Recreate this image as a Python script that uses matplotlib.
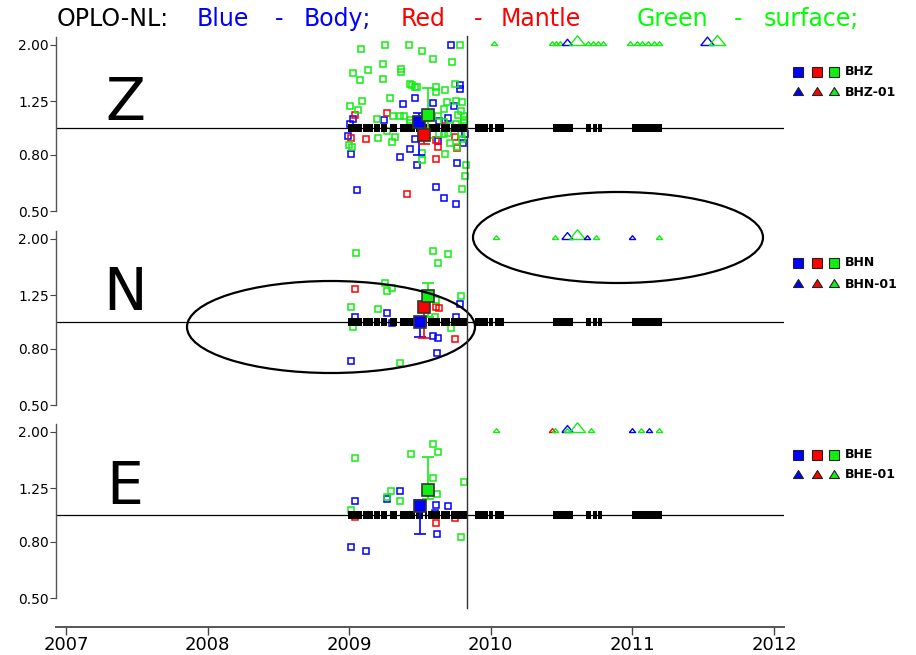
import numpy as np
import matplotlib
matplotlib.use('Agg')
import matplotlib.pyplot as plt
import matplotlib.transforms as mtransforms
from matplotlib.patches import Ellipse
from matplotlib.lines import Line2D

plt.rcParams['font.family'] = ['DejaVu Sans']

BLUE = '#0000ff'
RED = '#ff0000'
GREEN = '#11ee11'

# recording coverage (start / end, decimal years)
cover_start = [2008.99, 2009.10, 2009.175, 2009.225, 2009.29, 2009.36, 2009.47, 2009.535,
               2009.56, 2009.65, 2009.72, 2009.89, 2009.99, 2010.03, 2010.44, 2010.67,
               2010.72, 2010.76, 2011.00]
cover_end = [2009.09, 2009.17, 2009.22, 2009.27, 2009.34, 2009.465, 2009.52, 2009.547,
             2009.64, 2009.71, 2009.83, 2009.98, 2010.015, 2010.09, 2010.58, 2010.71,
             2010.75, 2010.785, 2011.21]

# ---- Z component ----
z_green_t = [2009.081, 2009.252, 2009.424, 2009.514, 2009.782, 2009.594, 2009.728, 2009.241,
             2009.363, 2009.135, 2009.026, 2009.074, 2009.241, 2009.431, 2009.464, 2009.481,
             2009.615, 2009.744, 2009.613, 2009.674, 2009.092, 2009.290, 2009.003, 2009.064,
             2009.688, 2009.756, 2009.796, 2009.667, 2009.789, 2009.198, 2009.307, 2009.358,
             2009.384, 2009.429, 2009.431, 2009.629, 2009.768, 2009.810, 2009.810, 2009.671,
             2009.756, 2009.711, 2009.264, 2009.323, 2009.300, 2009.203, 2008.998, 2009.017,
             2009.521, 2009.671, 2009.634, 2009.789, 2009.799, 2009.711, 2009.763, 2009.511,
             2009.511, 2009.676, 2009.824, 2009.815, 2009.794, 2009.365, 2009.443, 2009.813,
             2009.700]
z_green_v = [1.932, 1.991, 1.990, 1.905, 1.990, 1.782, 1.729, 1.700,
             1.631, 1.626, 1.582, 1.488, 1.509, 1.447, 1.411, 1.407,
             1.403, 1.447, 1.346, 1.373, 1.252, 1.281, 1.205, 1.159,
             1.245, 1.256, 1.238, 1.168, 1.155, 1.081, 1.102, 1.102,
             1.102, 1.069, 1.040, 1.102, 1.114, 1.105, 1.066, 1.054,
             1.034, 1.020, 0.975, 0.925, 0.887, 0.920, 0.868, 0.854,
             0.946, 0.951, 0.949, 0.951, 0.910, 0.885, 0.851, 0.810,
             0.766, 0.807, 0.737, 0.670, 0.603, 1.599, 1.431, 1.040,
             0.957]
z_blue_t = [2009.718, 2009.784, 2009.784, 2009.464, 2009.377, 2009.594, 2009.740, 2009.248,
            2009.697, 2009.631, 2009.026, 2009.005, 2008.991, 2009.015, 2009.361, 2009.429,
            2009.476, 2009.758, 2009.629, 2009.806, 2009.817, 2009.057, 2009.613, 2009.671,
            2009.751, 2009.467]
z_blue_v = [1.990, 1.431, 1.380, 1.281, 1.225, 1.235, 1.201, 1.066,
            1.084, 1.063, 1.075, 1.034, 0.936, 0.807, 0.785, 0.842,
            0.735, 0.745, 0.900, 0.880, 0.949, 0.597, 0.612, 0.558,
            0.532, 0.910]
z_red_t = [2009.043, 2009.267, 2009.012, 2009.118, 2009.613, 2009.629, 2009.747, 2009.676,
           2009.613, 2009.408, 2009.758]
z_red_v = [1.118, 1.130, 0.923, 0.915, 0.905, 0.856, 0.930, 1.013,
           0.772, 0.577, 0.844]
z_mean_t = [2009.49, 2009.53, 2009.56]
z_mean_v = [1.05, 0.94, 1.11]
z_mean_lo = [0.80, 0.875, 0.92]
z_mean_hi = [1.13, 1.00, 1.40]
z_mean_c = [BLUE, RED, GREEN]
z_tri_t = [2010.02, 2010.43, 2010.46, 2010.49, 2010.54, 2010.61, 2010.69, 2010.72, 2010.76,
           2010.79, 2010.98, 2011.03, 2011.07, 2011.11, 2011.15, 2011.19, 2011.53, 2011.60]
z_tri_c = [GREEN, GREEN, GREEN, GREEN, BLUE, GREEN, GREEN, GREEN, GREEN,
           GREEN, GREEN, GREEN, GREEN, GREEN, GREEN, GREEN, BLUE, GREEN]
z_tri_s = [5.5, 5.5, 5.5, 5.5, 9, 14, 5.5, 5.5, 5.5,
           5.5, 5.5, 5.5, 5.5, 5.5, 5.5, 5.5, 12, 14.5]

# ---- N component ----
n_green_t = [2009.045, 2009.594, 2009.700, 2009.629, 2009.252, 2009.269, 2009.300, 2009.015,
             2009.201, 2009.787, 2009.606, 2009.718, 2009.024, 2009.358, 2009.613]
n_green_v = [1.772, 1.802, 1.767, 1.640, 1.380, 1.298, 1.324, 1.130,
             1.111, 1.242, 1.040, 0.949, 0.962, 0.709, 1.201]
n_blue_t = [2009.269, 2009.041, 2009.300, 2009.784, 2009.751, 2009.589, 2009.627, 2009.617,
            2009.015]
n_blue_v = [1.075, 1.045, 0.989, 1.162, 1.040, 0.890, 0.875, 0.770, 0.723]
n_red_t = [2009.041, 2009.613, 2009.631, 2009.749]
n_red_v = [1.313, 1.136, 1.121, 0.870]
n_mean_t = [2009.50, 2009.53, 2009.56]
n_mean_v = [1.00, 1.13, 1.24]
n_mean_lo = [0.88, 0.873, 1.045]
n_mean_hi = [1.045, 1.14, 1.38]
n_mean_c = [BLUE, RED, GREEN]
n_tri_t = [2010.04, 2010.45, 2010.54, 2010.61, 2010.68, 2010.74, 2011.00, 2011.19]
n_tri_c = [GREEN, GREEN, BLUE, GREEN, BLUE, GREEN, BLUE, GREEN]
n_tri_s = [5.5, 5.5, 10, 14, 5.5, 5.5, 5.5, 5.5]

# ---- E component ----
e_green_t = [2009.594, 2009.629, 2009.434, 2009.043, 2009.297, 2009.269, 2009.358, 2009.589,
             2009.810, 2009.617, 2009.012, 2009.787]
e_green_v = [1.802, 1.690, 1.658, 1.613, 1.225, 1.165, 1.127, 1.365,
             1.320, 1.188, 1.046, 0.835]
e_blue_t = [2009.358, 2009.043, 2009.269, 2009.700, 2009.613, 2009.608, 2009.617, 2009.015,
            2009.121]
e_blue_v = [1.218, 1.124, 1.140, 1.081, 1.084, 1.020, 0.854, 0.768, 0.743]
e_red_t = [2009.613, 2009.749, 2009.043]
e_red_v = [0.933, 0.973, 0.986]
e_mean_t = [2009.50, 2009.56]
e_mean_v = [1.08, 1.23]
e_mean_lo = [0.853, 1.14]
e_mean_hi = [1.13, 1.62]
e_mean_c = [BLUE, GREEN]
e_tri_t = [2010.04, 2010.43, 2010.45, 2010.54, 2010.54, 2010.61, 2010.71, 2011.00, 2011.06,
           2011.12, 2011.19]
e_tri_c = [GREEN, RED, GREEN, BLUE, GREEN, GREEN, GREEN, BLUE, GREEN, BLUE, GREEN]
e_tri_s = [5.5, 5.5, 5.5, 10, 5.5, 14, 5.5, 5.5, 5.5, 5.5, 5.5]

yticks = [0.5, 0.8, 1.25, 2.0]
ytick_labels = ['0.50', '0.80', '1.25', '2.00']
years = [2007, 2008, 2009, 2010, 2011, 2012]
mark_time = 2009.83

panels = [
    ('Z', 'BHZ', z_blue_t, z_blue_v, z_red_t, z_red_v, z_green_t, z_green_v,
     z_mean_t, z_mean_v, z_mean_lo, z_mean_hi, z_mean_c, z_tri_t, z_tri_c, z_tri_s),
    ('N', 'BHN', n_blue_t, n_blue_v, n_red_t, n_red_v, n_green_t, n_green_v,
     n_mean_t, n_mean_v, n_mean_lo, n_mean_hi, n_mean_c, n_tri_t, n_tri_c, n_tri_s),
    ('E', 'BHE', e_blue_t, e_blue_v, e_red_t, e_red_v, e_green_t, e_green_v,
     e_mean_t, e_mean_v, e_mean_lo, e_mean_hi, e_mean_c, e_tri_t, e_tri_c, e_tri_s),
]

W, H = 916, 655
fig = plt.figure(figsize=(W / 100, H / 100), dpi=100)

# flat triangle with its base on the point; a taller one for the key
tri = [(-1, 0), (1, 0), (0, 1.24), (-1, 0)]
tri_key = [(-1, 0), (1, 0), (0, 1.6), (-1, 0)]

# panel bottoms in pixels from the top, and label / key rows
panel_bottom = [211.2, 405.2, 598.2]
label_base = [120, 310, 504]
leg_sq = [71.7, 263, 455]
leg_tri = [91, 283, 474]

axes = []
for i, p in enumerate(panels):
    (comp, chan, bt, bv, rt, rv, gt, gv, mt, mv, mlo, mhi, mc, tt, tc, ts) = p
    ax = fig.add_axes([56 / W, 1 - panel_bottom[i] / H, 728 / W, 174.2 / H])
    axes.append(ax)
    ax.set_yscale('log')
    ax.set_ylim(0.5, 2.135)
    ax.set_xlim(2006.929, 2012.071)

    ax.plot(bt, bv, 's', ms=4.3, mfc='none', mec=BLUE, mew=1.1, zorder=2)
    ax.plot(rt, rv, 's', ms=4.3, mfc='none', mec=RED, mew=1.1, zorder=2)
    ax.plot(gt, gv, 's', ms=4.3, mfc='none', mec=GREEN, mew=1.1, zorder=2)

    ax.axhline(1.0, color='black', lw=0.9, zorder=2.5)
    spans = [(s, e - s) for s, e in zip(cover_start, cover_end)]
    ax.broken_barh(spans, (0.971, 0.0595), facecolors='black', edgecolors='none', zorder=3)

    for t, s, c in zip(tt, ts, tc):
        ax.plot([t], [2.0], marker=tri, ms=s, mfc='none', mec=c, mew=1.0,
                ls='none', clip_on=False, zorder=4)

    for t, v, lo, hi, c in zip(mt, mv, mlo, mhi, mc):
        ax.errorbar([t], [v], yerr=[[v - lo], [hi - v]], fmt='none', ecolor=c,
                    elinewidth=1.2, capsize=4.5, capthick=1.2, zorder=5)
        ax.plot([t], [v], 's', ms=8, mfc=c, mec='#333333', mew=1.2, zorder=6)

    ax.set_yticks(yticks)
    ax.set_yticklabels(ytick_labels)
    ax.yaxis.set_minor_locator(matplotlib.ticker.NullLocator())
    ax.tick_params(axis='y', direction='out', length=4, width=0.8, colors='#444444',
                   labelcolor='black', labelsize=10, pad=1)
    for side in ['top', 'right']:
        ax.spines[side].set_visible(False)
    ax.spines['left'].set_color('#555555')
    ax.spines['left'].set_linewidth(1.0)

    fig.text(125 / W, 1 - label_base[i] / H, comp, fontsize=42,
             ha='center', va='baseline')

    # channel key on the right
    for x, c in zip([797.7, 816.7, 834.0], [BLUE, RED, GREEN]):
        fig.add_artist(Line2D([x / W], [1 - leg_sq[i] / H], marker='s', ms=6.5, mfc=c,
                              mec='#222222', mew=0.8, transform=fig.transFigure))
        fig.add_artist(Line2D([x / W], [1 - (leg_tri[i] + 4) / H], marker=tri_key, ms=11.5,
                              mfc=c, mec='#222222', mew=0.8, transform=fig.transFigure))
    fig.text(845 / W, 1 - leg_sq[i] / H, chan, fontsize=9, weight='bold', va='center')
    fig.text(845 / W, 1 - (leg_tri[i] + 1) / H, chan + '-01', fontsize=9, weight='bold',
             va='center')

for ax in axes[:2]:
    ax.spines['bottom'].set_visible(False)
    ax.set_xticks([])

ax_e = axes[2]
ax_e.spines['bottom'].set_position(('outward', 21))
ax_e.spines['bottom'].set_color('#555555')
ax_e.spines['bottom'].set_linewidth(1.4)
ax_e.set_xticks(years)
ax_e.set_xticklabels([str(y) for y in years])
ax_e.tick_params(axis='x', direction='out', length=5.5, width=1.0, colors='#444444',
                 labelcolor='black', labelsize=13, pad=0.5)

# vertical marker running through all three panels
blend = mtransforms.blended_transform_factory(ax_e.transData, fig.transFigure)
fig.add_artist(Line2D([mark_time, mark_time], [1 - 36 / H, 1 - 608 / H], color='#333333',
                      lw=1.0, transform=blend))

# highlighted regions
fig.add_artist(Ellipse((331 / W, 1 - 327 / H), 288 / W, 92 / H, fill=False, ec='black',
                       lw=1.6, transform=fig.transFigure))
fig.add_artist(Ellipse((618 / W, 1 - 237.5 / H), 290 / W, 91 / H, fill=False, ec='black',
                       lw=1.6, transform=fig.transFigure))

# header, one word at a time
header = [('OPLO-NL:', 57, 'black'),
          ('Blue', 197, BLUE), ('-', 275, BLUE), ('Body;', 304, BLUE),
          ('Red', 401, RED), ('-', 474, RED), ('Mantle', 501, RED),
          ('Green', 637, '#00ff00'), ('-', 734, '#00ff00'), ('surface;', 764, '#00ff00')]
for word, x, c in header:
    fig.text(x / W, 1 - 26 / H, word, fontsize=17, color=c, va='baseline')

fig.savefig('out.png', dpi=100, facecolor='white')
